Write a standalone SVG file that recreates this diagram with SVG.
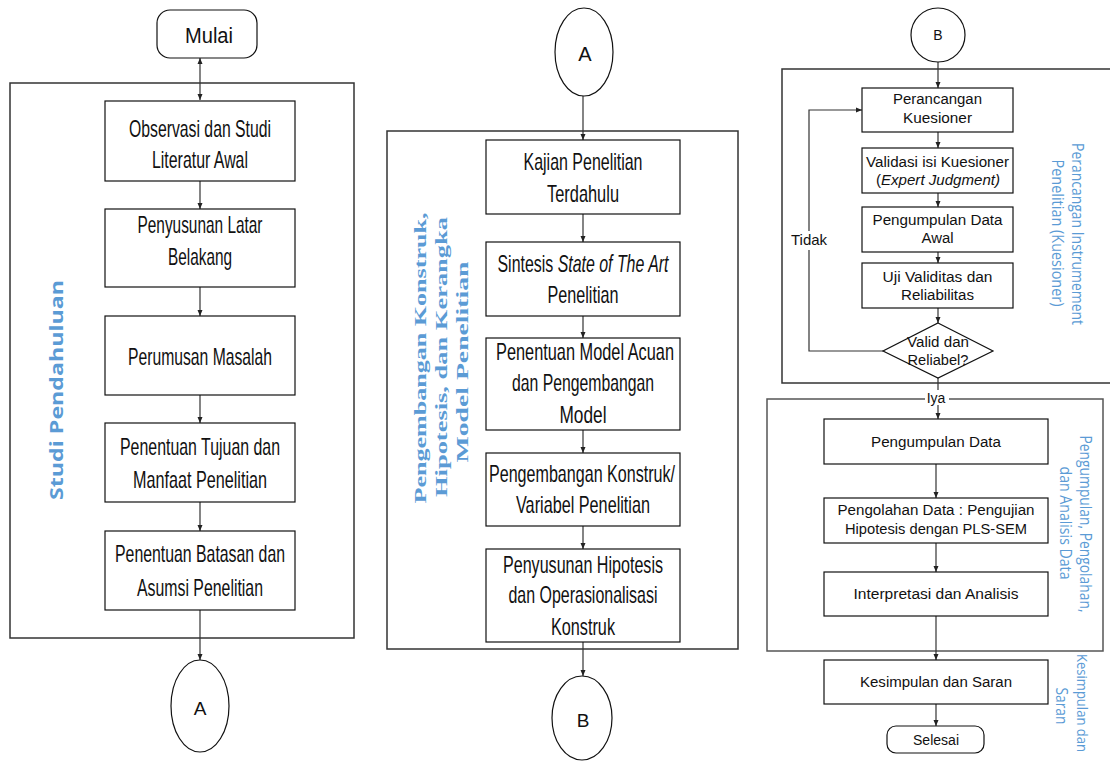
<svg xmlns="http://www.w3.org/2000/svg" width="1110" height="762" viewBox="0 0 1110 762">
<defs>
<marker id="ah" markerUnits="userSpaceOnUse" markerWidth="7" markerHeight="7" refX="6" refY="3" orient="auto-start-reverse"><path d="M0,0.5 L6,3 L0,5.5 z" fill="#222"/></marker>
<style>
.box{fill:#fff;stroke:#111;stroke-width:1.2}
.frame{fill:none;stroke:#333;stroke-width:1.5}
.conn{fill:none;stroke:#333;stroke-width:1.2;marker-end:url(#ah)}
.t{font-family:"Liberation Sans Narrow","Liberation Sans",Arial,sans-serif;font-size:24px;fill:#111;text-anchor:middle}
.s{font-family:"Liberation Sans",Arial,sans-serif;font-size:14px;fill:#111;text-anchor:middle}
.lab{fill:#5B9BD5;text-anchor:middle}
.ls{font-family:"Open Sans","Liberation Sans",sans-serif;font-size:16px}
.lb{font-family:"Open Sans","Liberation Sans",sans-serif;font-size:17px;font-weight:bold}
.lser{font-family:"Liberation Serif","Times New Roman",serif;font-size:17px;font-weight:bold}
</style>
</defs>

<g id="frames">
<rect class="frame" x="10" y="83" width="344" height="555"/>
<rect class="frame" x="387" y="131" width="351" height="518"/>
<rect class="frame" x="782" y="69" width="335" height="314"/>
<rect class="frame" x="767" y="399" width="336" height="252" style="stroke:#555"/>
</g>

<g id="labels">
<text class="lab lb" transform="translate(63,390) rotate(-90)" textLength="220" lengthAdjust="spacingAndGlyphs">Studi Pendahuluan</text>
<text class="lab lser" transform="translate(426,358) rotate(-90)" textLength="291" lengthAdjust="spacingAndGlyphs">Pengembangan Konstruk,</text>
<text class="lab lser" transform="translate(447,357) rotate(-90)" textLength="280" lengthAdjust="spacingAndGlyphs">Hipotesis, dan Kerangka</text>
<text class="lab lser" transform="translate(468,362) rotate(-90)" textLength="201" lengthAdjust="spacingAndGlyphs">Model Penelitian</text>
<text class="lab ls" transform="translate(1072,234) rotate(90)" textLength="182" lengthAdjust="spacingAndGlyphs">Perancangan Instrumement</text>
<text class="lab ls" transform="translate(1052,233) rotate(90)" textLength="147" lengthAdjust="spacingAndGlyphs">Penelitian (Kuesioner)</text>
<text class="lab ls" transform="translate(1080,524) rotate(90)" textLength="177" lengthAdjust="spacingAndGlyphs">Pengumpulan, Pengolahan,</text>
<text class="lab ls" transform="translate(1060,523) rotate(90)" textLength="113" lengthAdjust="spacingAndGlyphs">dan Analisis Data</text>
<text class="lab ls" transform="translate(1077,703) rotate(90)" style="font-size:15px" textLength="98" lengthAdjust="spacingAndGlyphs">Kesimpulan dan</text>
<text class="lab ls" transform="translate(1056,706) rotate(90)" textLength="37" lengthAdjust="spacingAndGlyphs">Saran</text>
</g>

<g id="connectors">
<path class="conn" d="M200,58 V100" style="marker-start:url(#ah)"/>
<path class="conn" d="M200,181 V209"/>
<path class="conn" d="M200,287 V316"/>
<path class="conn" d="M200,395 V423"/>
<path class="conn" d="M200,502 V531"/>
<path class="conn" d="M200,610 V660"/>
<path class="conn" d="M583,96 V140"/>
<path class="conn" d="M583,214 V242"/>
<path class="conn" d="M583,316 V338"/>
<path class="conn" d="M583,430 V453"/>
<path class="conn" d="M583,526 V549"/>
<path class="conn" d="M583,642 V676"/>
<path class="conn" d="M938,62 V88"/>
<path class="conn" d="M938,132 V148"/>
<path class="conn" d="M938,193 V207"/>
<path class="conn" d="M938,252 V263"/>
<path class="conn" d="M938,308 V323"/>
<path class="conn" d="M938,378 V419"/>
<path class="conn" d="M883,351 H809 V110 H862"/>
<path class="conn" d="M936,464 V498"/>
<path class="conn" d="M936,543 V572"/>
<path class="conn" d="M936,616 V660"/>
<path class="conn" d="M936,704 V726"/>
<rect x="789" y="231" width="40" height="19" fill="#fff"/>
<text class="s" x="809" y="245" style="font-size:15px">Tidak</text>
<rect x="925" y="390" width="24" height="15" fill="#fff"/>
<text class="s" x="936" y="403">Iya</text>
</g>

<g id="mulai">
<rect class="box" x="157" y="10" width="100" height="48" rx="13"/>
<text class="t" x="209" y="43" style="font-size:22px" textLength="48" lengthAdjust="spacingAndGlyphs">Mulai</text>
</g>
<g id="observasi">
<rect class="box" x="105" y="101" width="190" height="80"/>
<text class="t" x="200" y="137" textLength="142" lengthAdjust="spacingAndGlyphs">Observasi dan Studi</text>
<text class="t" x="200" y="168" textLength="96" lengthAdjust="spacingAndGlyphs">Literatur Awal</text>
</g>
<g id="latar">
<rect class="box" x="105" y="209" width="190" height="78"/>
<text class="t" x="200" y="233" textLength="125" lengthAdjust="spacingAndGlyphs">Penyusunan Latar</text>
<text class="t" x="200" y="265" textLength="64" lengthAdjust="spacingAndGlyphs">Belakang</text>
</g>
<g id="masalah">
<rect class="box" x="105" y="316" width="190" height="79"/>
<text class="t" x="200" y="365" textLength="144" lengthAdjust="spacingAndGlyphs">Perumusan Masalah</text>
</g>
<g id="tujuan">
<rect class="box" x="105" y="423" width="190" height="79"/>
<text class="t" x="200" y="455" textLength="160" lengthAdjust="spacingAndGlyphs">Penentuan Tujuan dan</text>
<text class="t" x="200" y="488" textLength="134" lengthAdjust="spacingAndGlyphs">Manfaat Penelitian</text>
</g>
<g id="batasan">
<rect class="box" x="105" y="531" width="190" height="79"/>
<text class="t" x="200" y="562" textLength="170" lengthAdjust="spacingAndGlyphs">Penentuan Batasan dan</text>
<text class="t" x="200" y="596" textLength="126" lengthAdjust="spacingAndGlyphs">Asumsi Penelitian</text>
</g>
<g id="connA1">
<ellipse class="box" cx="200" cy="706" rx="29" ry="46"/>
<text class="t" x="200" y="715" style="font-size:19px">A</text>
</g>

<g id="connA2">
<ellipse class="box" cx="584" cy="52" rx="29" ry="44"/>
<text class="t" x="585" y="61" style="font-size:20px">A</text>
</g>
<g id="kajian">
<rect class="box" x="486" y="140" width="194" height="74"/>
<text class="t" x="583" y="170" textLength="119" lengthAdjust="spacingAndGlyphs">Kajian Penelitian</text>
<text class="t" x="583" y="202" textLength="72" lengthAdjust="spacingAndGlyphs">Terdahulu</text>
</g>
<g id="sintesis">
<rect class="box" x="486" y="242" width="194" height="74"/>
<text class="t" x="583" y="272" textLength="171" lengthAdjust="spacingAndGlyphs">Sintesis <tspan font-style="italic">State of The Art</tspan></text>
<text class="t" x="583" y="303" textLength="71" lengthAdjust="spacingAndGlyphs">Penelitian</text>
</g>
<g id="model">
<rect class="box" x="486" y="338" width="194" height="92"/>
<text class="t" x="585" y="360" textLength="178" lengthAdjust="spacingAndGlyphs">Penentuan Model Acuan</text>
<text class="t" x="583" y="391" textLength="142" lengthAdjust="spacingAndGlyphs">dan Pengembangan</text>
<text class="t" x="583" y="423" textLength="47" lengthAdjust="spacingAndGlyphs">Model</text>
</g>
<g id="konstruk">
<rect class="box" x="486" y="453" width="194" height="73"/>
<text class="t" x="582" y="482" textLength="186" lengthAdjust="spacingAndGlyphs">Pengembangan Konstruk/</text>
<text class="t" x="583" y="513" textLength="134" lengthAdjust="spacingAndGlyphs">Variabel Penelitian</text>
</g>
<g id="hipotesis">
<rect class="box" x="486" y="549" width="194" height="93"/>
<text class="t" x="583" y="573" textLength="160" lengthAdjust="spacingAndGlyphs">Penyusunan Hipotesis</text>
<text class="t" x="583" y="603" textLength="149" lengthAdjust="spacingAndGlyphs">dan Operasionalisasi</text>
<text class="t" x="583" y="635" textLength="64" lengthAdjust="spacingAndGlyphs">Konstruk</text>
</g>
<g id="connB1">
<ellipse class="box" cx="582" cy="718" rx="30" ry="42"/>
<text class="t" x="583" y="727" style="font-size:19px">B</text>
</g>

<g id="connB2">
<circle class="box" cx="938" cy="35" r="27"/>
<text class="s" x="938" y="40">B</text>
</g>
<g id="perancangan">
<rect class="box" x="862" y="88" width="151" height="44"/>
<text class="s" x="937.5" y="104" textLength="89" lengthAdjust="spacingAndGlyphs">Perancangan</text>
<text class="s" x="937.5" y="123" textLength="69" lengthAdjust="spacingAndGlyphs">Kuesioner</text>
</g>
<g id="validasi">
<rect class="box" x="862" y="148" width="151" height="45"/>
<text class="s" x="937.5" y="167" textLength="143" lengthAdjust="spacingAndGlyphs">Validasi isi Kuesioner</text>
<text class="s" x="938" y="185" textLength="124" lengthAdjust="spacingAndGlyphs">(<tspan font-style="italic">Expert Judgment)</tspan></text>
</g>
<g id="pengumpulanAwal">
<rect class="box" x="862" y="207" width="151" height="45"/>
<text class="s" x="937.5" y="225" textLength="130" lengthAdjust="spacingAndGlyphs">Pengumpulan Data</text>
<text class="s" x="937.5" y="243" textLength="32" lengthAdjust="spacingAndGlyphs">Awal</text>
</g>
<g id="uji">
<rect class="box" x="862" y="263" width="151" height="45"/>
<text class="s" x="937.5" y="282" textLength="110" lengthAdjust="spacingAndGlyphs">Uji Validitas dan</text>
<text class="s" x="937.5" y="300" textLength="73" lengthAdjust="spacingAndGlyphs">Reliabilitas</text>
</g>
<g id="decision">
<polygon class="box" points="938,323 993,351 938,378 883,351"/>
<text class="s" x="938" y="347" textLength="62" lengthAdjust="spacingAndGlyphs">Valid dan</text>
<text class="s" x="938" y="365" textLength="61" lengthAdjust="spacingAndGlyphs">Reliabel?</text>
</g>
<g id="pengumpulan">
<rect class="box" x="824" y="419" width="224" height="45"/>
<text class="s" x="936" y="447" textLength="130" lengthAdjust="spacingAndGlyphs">Pengumpulan Data</text>
</g>
<g id="pengolahan">
<rect class="box" x="824" y="498" width="224" height="45"/>
<text class="s" x="936" y="515" textLength="197" lengthAdjust="spacingAndGlyphs">Pengolahan Data : Pengujian</text>
<text class="s" x="936" y="534" textLength="182" lengthAdjust="spacingAndGlyphs">Hipotesis dengan PLS-SEM</text>
</g>
<g id="interpretasi">
<rect class="box" x="824" y="572" width="224" height="44"/>
<text class="s" x="936" y="599" textLength="165" lengthAdjust="spacingAndGlyphs">Interpretasi dan Analisis</text>
</g>
<g id="kesimpulan">
<rect class="box" x="824" y="660" width="224" height="44"/>
<text class="s" x="936" y="687" textLength="152" lengthAdjust="spacingAndGlyphs">Kesimpulan dan Saran</text>
</g>
<g id="selesai">
<rect class="box" x="887" y="726" width="97" height="27" rx="9"/>
<text class="s" x="936" y="745" textLength="46" lengthAdjust="spacingAndGlyphs">Selesai</text>
</g>
</svg>
